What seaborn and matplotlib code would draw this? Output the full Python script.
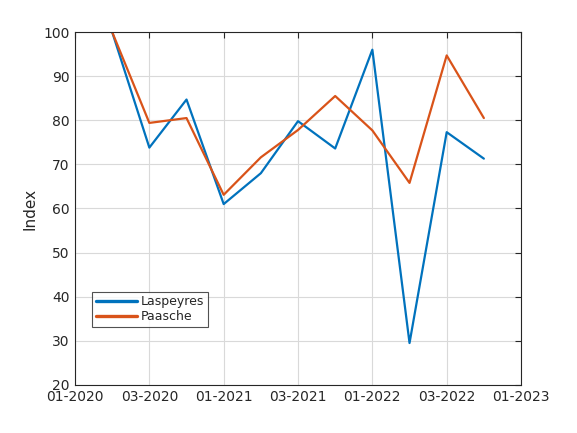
import pandas as pd
import seaborn as sns
import matplotlib.pyplot as plt

# quarter index positions (ticks every 2 quarters)
quarters = [1, 2, 3, 4, 5, 6, 7, 8, 9, 10, 11]
laspeyres = [100.0, 73.8, 84.7, 61.0, 68.0, 79.8, 73.6, 96.0, 29.5, 77.3, 71.3]
paasche = [100.0, 79.4, 80.5, 63.1, 71.6, 77.8, 85.5, 77.7, 65.8, 94.7, 80.5]
tick_pos = [0, 2, 4, 6, 8, 10, 12]
tick_labels = ['01-2020', '03-2020', '01-2021', '03-2021', '01-2022', '03-2022', '01-2023']

df = pd.DataFrame({
    'q': quarters * 2,
    'value': laspeyres + paasche,
    'index': ['Laspeyres'] * len(quarters) + ['Paasche'] * len(quarters),
})

sns.set_style("white")
plt.rcParams['font.family'] = ['DejaVu Sans']

fig = plt.figure(figsize=(5.77, 4.33), dpi=100)
ax = fig.add_axes([0.13, 0.111, 0.773, 0.815])

sns.lineplot(data=df, x='q', y='value', hue='index', ax=ax,
             palette={'Laspeyres': '#0072BD', 'Paasche': '#D95319'},
             linewidth=1.6, legend=True)

ax.set_xlim(0, 12)
ax.set_ylim(20, 100)
ax.set_xticks(tick_pos)
ax.set_xticklabels(tick_labels)
ax.set_yticks(range(20, 101, 10))
ax.grid(True, color='#d9d9d9', linewidth=0.8)
ax.set_axisbelow(True)
for s in ax.spines.values():
    s.set_color('#262626')
    s.set_linewidth(0.8)
ax.tick_params(direction='in', length=4, top=True, right=True, labelsize=10,
               colors='#262626', pad=4)
ax.set_xlabel('')
ax.set_ylabel('Index', fontsize=11, color='#262626')

leg = ax.legend(loc='lower left', bbox_to_anchor=(0.038, 0.164), fontsize=9,
                handlelength=3.3, frameon=True, fancybox=False,
                borderpad=0.3, labelspacing=0.15, handletextpad=0.3,
                borderaxespad=0)
leg.get_frame().set_edgecolor('#262626')
leg.get_frame().set_linewidth(0.8)
for line in leg.get_lines():
    line.set_linewidth(2.4)

fig.savefig('out.png', dpi=100)
